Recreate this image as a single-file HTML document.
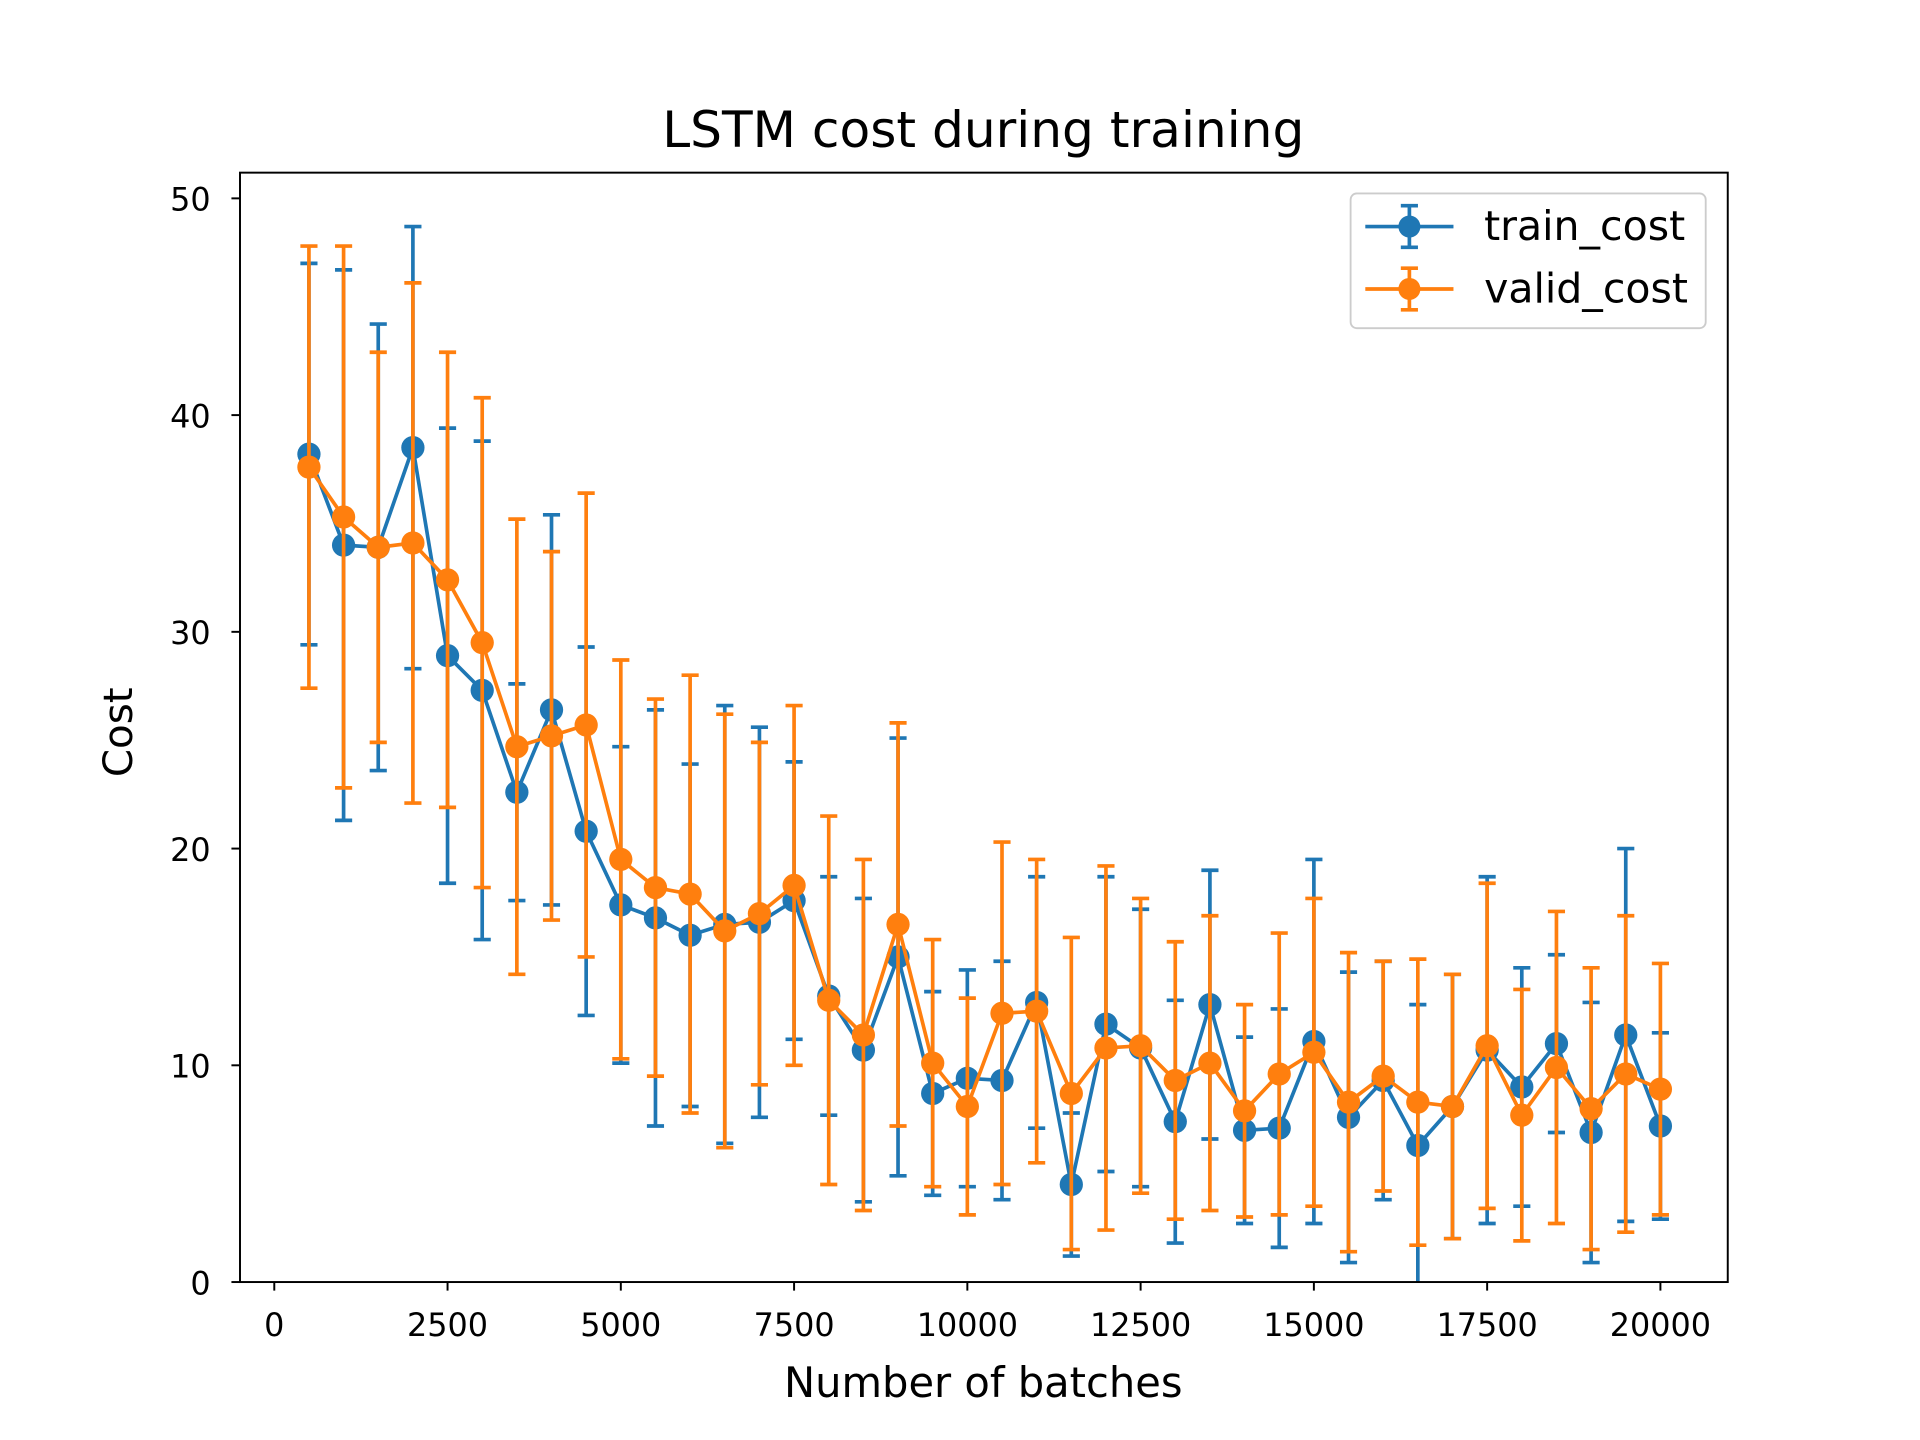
<!DOCTYPE html>
<html>
<head>
<meta charset="utf-8">
<style>
html,body{margin:0;padding:0;background:#fff;}
svg{display:block;}
text{font-family:"DejaVu Sans","Liberation Sans",sans-serif;fill:#000;}
</style>
</head>
<body>
<svg id="chart" width="1920" height="1440" viewBox="0 0 1568 1176" xmlns="http://www.w3.org/2000/svg">
<rect x="0" y="0" width="1568" height="1176" fill="#fff"/>
<text x="803" y="120" font-size="41" text-anchor="middle">LSTM cost during training</text>
<text x="803" y="1141" font-size="34" text-anchor="middle">Number of batches</text>
<text x="108" y="598" font-size="33" text-anchor="middle" transform="rotate(-90 108 598)">Cost</text>
<g id="axes"></g>
<g id="series"></g>
<rect x="196" y="141" width="1215" height="906" fill="none" stroke="#000" stroke-width="1.6"/>
<g id="legend">
  <rect x="1103" y="158" width="290" height="110" rx="5" fill="#fff" fill-opacity="0.8" stroke="#ccc" stroke-width="1.5"/>
  <g>
    <line x1="1115" y1="185" x2="1187" y2="185" stroke="#1f77b4" stroke-width="3"/>
    <line x1="1151" y1="168" x2="1151" y2="202" stroke="#1f77b4" stroke-width="3"/>
    <line x1="1144" y1="168" x2="1158" y2="168" stroke="#1f77b4" stroke-width="3"/>
    <line x1="1144" y1="202" x2="1158" y2="202" stroke="#1f77b4" stroke-width="3"/>
    <circle cx="1151" cy="185" r="9" fill="#1f77b4"/>
    <text x="1212" y="196" font-size="33.5">train_cost</text>
  </g>
  <g>
    <line x1="1115" y1="236" x2="1187" y2="236" stroke="#ff7f0e" stroke-width="3"/>
    <line x1="1151" y1="219" x2="1151" y2="253" stroke="#ff7f0e" stroke-width="3"/>
    <line x1="1144" y1="219" x2="1158" y2="219" stroke="#ff7f0e" stroke-width="3"/>
    <line x1="1144" y1="253" x2="1158" y2="253" stroke="#ff7f0e" stroke-width="3"/>
    <circle cx="1151" cy="236" r="9" fill="#ff7f0e"/>
    <text x="1212" y="247" font-size="33.5">valid_cost</text>
  </g>
</g>
</svg>
<script>
const batches = [500,1000,1500,2000,2500,3000,3500,4000,4500,5000,5500,6000,6500,7000,7500,8000,8500,9000,9500,10000,10500,11000,11500,12000,12500,13000,13500,14000,14500,15000,15500,16000,16500,17000,17500,18000,18500,19000,19500,20000];
const trainCost = [38.2,34.0,33.9,38.5,28.9,27.3,22.6,26.4,20.8,17.4,16.8,16.0,16.5,16.6,17.6,13.2,10.7,15.0,8.7,9.4,9.3,12.9,4.5,11.9,10.8,7.4,12.8,7.0,7.1,11.1,7.6,9.3,6.3,8.1,10.7,9.0,11.0,6.9,11.4,7.2];
const trainErr = [8.8,12.7,10.3,10.2,10.5,11.5,5.0,9.0,8.5,7.3,9.6,7.9,10.1,9.0,6.4,5.5,7.0,10.1,4.7,5.0,5.5,5.8,3.3,6.8,6.4,5.6,6.2,4.3,5.5,8.4,6.7,5.5,6.5,6.1,8.0,5.5,4.1,6.0,8.6,4.3];
const validCost = [37.6,35.3,33.9,34.1,32.4,29.5,24.7,25.2,25.7,19.5,18.2,17.9,16.2,17.0,18.3,13.0,11.4,16.5,10.1,8.1,12.4,12.5,8.7,10.8,10.9,9.3,10.1,7.9,9.6,10.6,8.3,9.5,8.3,8.1,10.9,7.7,9.9,8.0,9.6,8.9];
const validErr = [10.2,12.5,9.0,12.0,10.5,11.3,10.5,8.5,10.7,9.2,8.7,10.1,10.0,7.9,8.3,8.5,8.1,9.3,5.7,5.0,7.9,7.0,7.2,8.4,6.8,6.4,6.8,4.9,6.5,7.1,6.9,5.3,6.6,6.1,7.5,5.8,7.2,6.5,7.3,5.8];
const xTicks = [0,2500,5000,7500,10000,12500,15000,17500,20000];
const yTicks = [0,10,20,30,40,50];

const NS = "http://www.w3.org/2000/svg";
function xs(v){ return 224 + (v/20000)*(1356-224); }
function ys(v){ return 1047 - (v/50)*(1047-162); }
function mk(tag, attrs, parent){
  const e = document.createElementNS(NS, tag);
  for (const k in attrs) e.setAttribute(k, attrs[k]);
  parent.appendChild(e);
  return e;
}
const axes = document.getElementById('axes');
xTicks.forEach(t=>{
  const g = mk('g',{},axes);
  
  
  mk('line',{x1:xs(t),x2:xs(t),y1:1047,y2:1054,stroke:'#000','stroke-width':1.6},g);
  const tx = mk('text',{x:xs(t),y:1091,'font-size':26,'text-anchor':'middle'},g);
  tx.textContent = t;
});
yTicks.forEach(t=>{
  const g = mk('g',{},axes);
  
  
  mk('line',{x1:189,x2:196,y1:ys(t),y2:ys(t),stroke:'#000','stroke-width':1.6},g);
  const tx = mk('text',{x:172,y:ys(t)+10,'font-size':26,'text-anchor':'end'},g);
  tx.textContent = t;
});
const seriesLayer = document.getElementById('series');
function drawSeries(vals, errs, color, name){
  const g = mk('g',{},seriesLayer);
  
  
  const clip = 'url(#plotclip)';
  const pts = batches.map((b,i)=>xs(b)+','+ys(vals[i])).join(' ');
  const line = mk('polyline',{points:pts,fill:'none',stroke:color,'stroke-width':3,'stroke-linejoin':'round','clip-path':clip},g);
  
  
  batches.forEach((b,i)=>{
    const x = xs(b), hi = ys(vals[i]+errs[i]), lo = ys(vals[i]-errs[i]);
    const eb = mk('g',{stroke:color,'stroke-width':3,'clip-path':clip},g);
    
    
    mk('line',{x1:x,x2:x,y1:hi,y2:lo},eb);
    mk('line',{x1:x-7,x2:x+7,y1:hi,y2:hi},eb);
    mk('line',{x1:x-7,x2:x+7,y1:lo,y2:lo},eb);
  });
  batches.forEach((b,i)=>{
    const c = mk('circle',{cx:xs(b),cy:ys(vals[i]),r:9.5,fill:color},g);
    
    
  });
}
const svg = document.getElementById('chart');
const defs = mk('defs',{},svg);
const cp = mk('clipPath',{id:'plotclip'},defs);
mk('rect',{x:196,y:141,width:1215,height:906},cp);
drawSeries(trainCost, trainErr, '#1f77b4', 'train-cost');
drawSeries(validCost, validErr, '#ff7f0e', 'valid-cost');
</script>
</body>
</html>
